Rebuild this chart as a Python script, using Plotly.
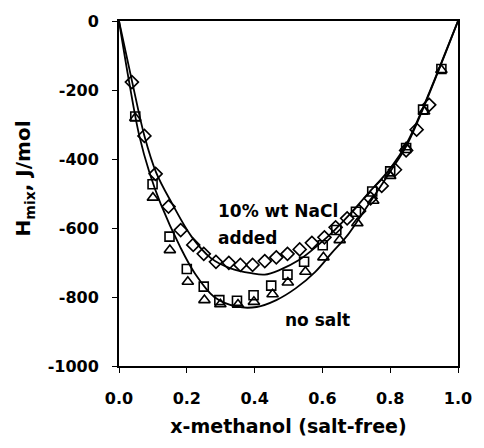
import plotly.graph_objects as go

# Measured enthalpy of mixing, water + methanol
# With 10 wt% NaCl added (diamonds)
x_salt = [0.038, 0.075, 0.108, 0.146, 0.182, 0.219, 0.250, 0.286, 0.324, 0.358,
          0.394, 0.430, 0.464, 0.497, 0.533, 0.569, 0.606, 0.639, 0.673, 0.708,
          0.742, 0.775, 0.814, 0.847, 0.878, 0.915]
h_salt = [-177, -333, -443, -538, -606, -649, -675, -698, -701, -707,
          -707, -696, -685, -675, -662, -643, -627, -598, -572, -551,
          -514, -478, -431, -375, -315, -243]

# Salt-free data, first set (squares)
x_sq = [0.048, 0.099, 0.149, 0.200, 0.250, 0.296, 0.348, 0.397, 0.449, 0.497,
        0.546, 0.601, 0.641, 0.699, 0.747, 0.800, 0.847, 0.897, 0.951]
h_sq = [-277, -473, -625, -719, -770, -809, -811, -795, -767, -735,
        -698, -650, -606, -553, -494, -436, -368, -257, -139]

# Salt-free data, second set (triangles)
x_tri = [0.048, 0.100, 0.150, 0.203, 0.252, 0.299, 0.351, 0.398, 0.453, 0.498,
         0.550, 0.603, 0.651, 0.703, 0.750, 0.800, 0.847, 0.900, 0.951]
h_tri = [-281, -512, -664, -756, -809, -821, -822, -814, -792, -758,
         -727, -685, -635, -586, -521, -449, -366, -262, -142]

# Correlated curves
x_fit_salt = [0, 0.039, 0.075, 0.11, 0.156, 0.214, 0.272, 0.329, 0.39, 0.43, 0.473,
              0.531, 0.588, 0.636, 0.684, 0.73, 0.8, 0.85, 0.915, 0.963, 1]
h_fit_salt = [0, -177, -333, -440, -528, -625, -688, -717, -731, -735, -722,
              -693, -649, -606, -557, -505, -428, -352, -208, -91, 0]

x_fit_free = [0, 0.03, 0.06, 0.09, 0.123, 0.18, 0.224, 0.281, 0.348, 0.406, 0.464,
              0.521, 0.579, 0.627, 0.675, 0.72, 0.8, 0.85, 0.915, 0.963, 1]
h_fit_free = [0, -177, -333, -440, -530, -654, -732, -800, -828, -829, -809,
              -775, -727, -673, -620, -555, -437, -358, -211, -93, 0]

# Axis ticks
x_ticks = [0.0, 0.2, 0.4, 0.6, 0.8, 1.0]
x_tick_labels = ["0.0", "0.2", "0.4", "0.6", "0.8", "1.0"]
y_ticks = [0, -200, -400, -600, -800, -1000]
y_tick_labels = ["0", "-200", "-400", "-600", "-800", "-1000"]

FONT = "DejaVu Sans"
mline = dict(color="black", width=1.6)

fig = go.Figure()
fig.add_trace(go.Scatter(x=x_fit_salt, y=h_fit_salt, mode="lines", line_shape="spline",
                         line=dict(color="black", width=1.8), hoverinfo="skip"))
fig.add_trace(go.Scatter(x=x_fit_free, y=h_fit_free, mode="lines", line_shape="spline",
                         line=dict(color="black", width=1.8), hoverinfo="skip"))
fig.add_trace(go.Scatter(x=x_salt, y=h_salt, mode="markers",
                         marker=dict(symbol="diamond-open", size=10, color="black", line=mline)))
fig.add_trace(go.Scatter(x=x_sq, y=h_sq, mode="markers",
                         marker=dict(symbol="square-open", size=9, color="black", line=mline)))
fig.add_trace(go.Scatter(x=x_tri, y=h_tri, mode="markers",
                         marker=dict(symbol="triangle-up-open", size=10, color="black", line=mline)))

txt = dict(family=FONT, size=17, color="black", weight="bold")
fig.add_annotation(x=0.286, y=-551, text="10% wt NaCl", showarrow=False,
                   xanchor="left", yanchor="middle", font=txt)
fig.add_annotation(x=0.286, y=-629, text="added", showarrow=False,
                   xanchor="left", yanchor="middle", font=txt)
fig.add_annotation(x=0.483, y=-867, text="no salt", showarrow=False,
                   xanchor="left", yanchor="middle", font=txt)

# Vertical axis title, placed by hand beside the tick labels
fig.add_annotation(xref="paper", yref="paper", x=-0.279, y=0.545,
                   text="H<sub>mix</sub>, J/mol", textangle=-90, showarrow=False,
                   xanchor="center", yanchor="middle",
                   font=dict(family=FONT, size=20, color="black", weight="bold"))

axis_common = dict(showline=True, linecolor="black", linewidth=2, mirror=True,
                   showgrid=False, zeroline=False, ticks="outside", ticklen=5,
                   tickwidth=1, tickcolor="black",
                   tickfont=dict(family=FONT, size=16, color="black", weight="bold"))

fig.update_xaxes(range=[0, 1], tickmode="array", tickvals=x_ticks, ticktext=x_tick_labels,
                 title=dict(text="x-methanol (salt-free)",
                            font=dict(family=FONT, size=19, color="black", weight="bold"),
                            standoff=12),
                 ticklabelstandoff=12, **axis_common)
fig.update_yaxes(range=[-1000, 0], tickmode="array", tickvals=y_ticks, ticktext=y_tick_labels,
                 ticklabelstandoff=10, **axis_common)

fig.update_layout(width=484, height=448, showlegend=False,
                  margin=dict(l=119, r=18, t=21, b=82),
                  plot_bgcolor="white", paper_bgcolor="white")

fig.write_html("out.html")
